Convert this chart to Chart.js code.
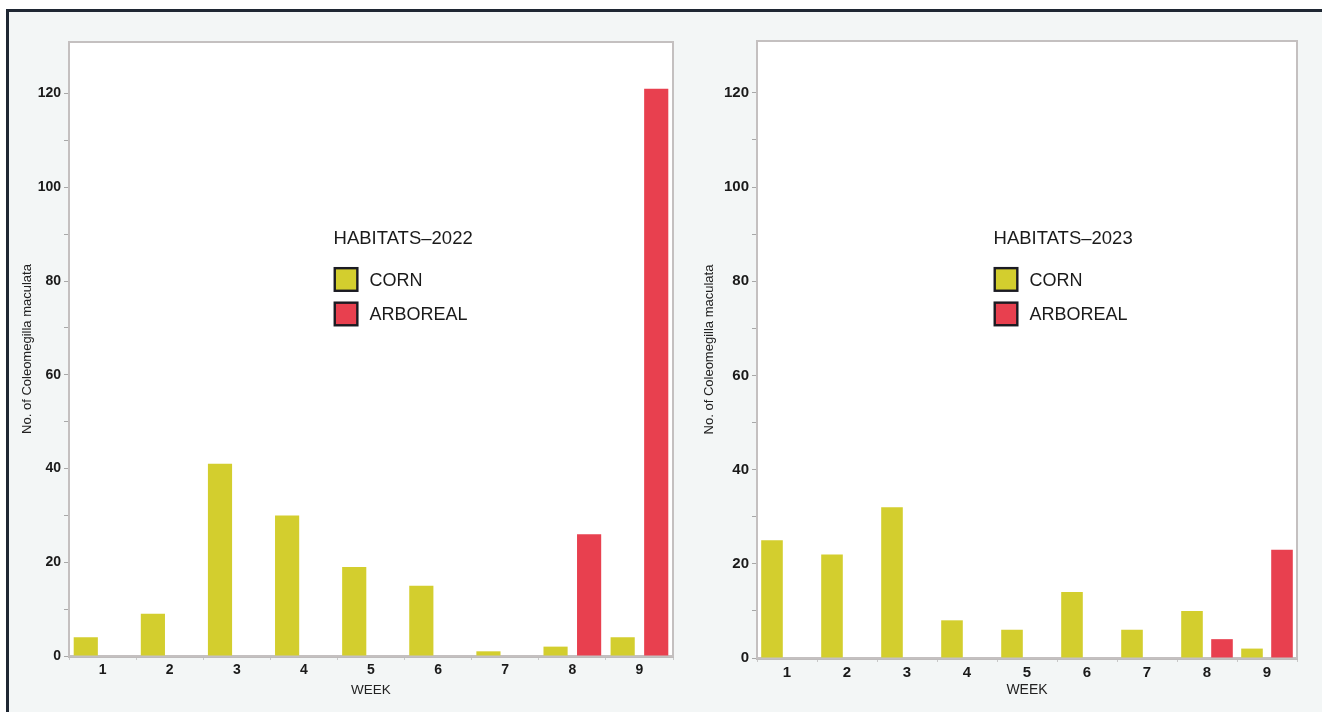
<!DOCTYPE html>
<html><head><meta charset="utf-8">
<script src="https://cdn.jsdelivr.net/npm/chart.js@4/dist/chart.umd.min.js"></script>
<style>
html,body{margin:0;padding:0;background:#fff;}
#wrap{position:relative;width:1322px;height:712px;overflow:hidden;background:#fff;}
#frame{position:absolute;left:6px;top:9px;right:0;bottom:0;background:#f3f6f6;border-top:3px solid #1f2733;border-left:3px solid #1f2733;}
canvas{position:absolute;top:0;}
#c1{left:0}
#c2{left:690px}
</style></head><body>
<div id="wrap"><div id="frame"></div>
<canvas id="c1" width="690" height="712"></canvas>
<canvas id="c2" width="632" height="712"></canvas>
</div>
<script>
// ---- data ----
const weeks = ['1','2','3','4','5','6','7','8','9'];
const seriesNames = ['CORN','ARBOREAL'];
const corn2022 = [4, 9, 41, 30, 19, 15, 1, 2, 4];
const arboreal2022 = [0, 0, 0, 0, 0, 0, 0, 26, 121];
const corn2023 = [25, 22, 32, 8, 6, 14, 6, 10, 2];
const arboreal2023 = [0, 0, 0, 0, 0, 0, 0, 4, 23];
const yTickLabels = [0, 20, 40, 60, 80, 100, 120];
const yMinorTicks = [10, 30, 50, 70, 90, 110];
const legendTitles = ['HABITATS–2022', 'HABITATS–2023'];
const xTitle = 'WEEK';
const yTitle = 'No. of Coleomegilla maculata';

const CORN_COLOR = '#d3ce2e';
const ARB_COLOR = '#e8404f';
const FONT = '"Liberation Sans", Arial, Helvetica, sans-serif';

const plotFrame = {
  id: 'plotFrame',
  beforeDraw(chart) {
    const {ctx, chartArea: a} = chart;
    ctx.save();
    ctx.fillStyle = '#ffffff';
    ctx.fillRect(a.left, a.top, a.right - a.left, a.bottom - a.top);
    ctx.restore();
  },
  beforeDatasetsDraw(chart) {
    const {ctx, chartArea: a} = chart;
    ctx.save();
    ctx.strokeStyle = '#c4c0c0';
    ctx.lineWidth = 2;
    ctx.strokeRect(a.left, a.top, a.right - a.left, a.bottom - a.top);
    ctx.restore();
  }
};

const insideLegend = {
  id: 'insideLegend',
  afterDraw(chart, args, opts) {
    const {ctx, chartArea: a} = chart;
    const x = a.left + opts.xFrac * (a.right - a.left);
    const y0 = a.top + opts.yFrac * (a.bottom - a.top);
    ctx.save();
    ctx.textAlign = 'left';
    ctx.textBaseline = 'middle';
    ctx.fillStyle = '#1a1a1a';
    ctx.font = '18.5px ' + FONT;
    ctx.fillText(opts.title, x, y0);
    chart.data.datasets.forEach((ds, i) => {
      const by = y0 + 28.5 + i * 34.5;
      ctx.fillStyle = ds.backgroundColor;
      ctx.fillRect(x + 1.2, by + 1.2, 22.6, 22.6);
      ctx.lineWidth = 2.4;
      ctx.strokeStyle = '#1b1b22';
      ctx.strokeRect(x + 1.2, by + 1.2, 22.6, 22.6);
      ctx.fillStyle = '#1a1a1a';
      ctx.font = '18px ' + FONT;
      ctx.fillText(ds.label, x + 36, by + 14);
    });
    ctx.restore();
  }
};

function makeChart(id, corn, arb, p) {
  const allTicks = yTickLabels.concat(yMinorTicks).sort((a, b) => a - b);
  return new Chart(document.getElementById(id), {
    type: 'bar',
    data: {
      labels: weeks,
      datasets: [
        {label: seriesNames[0], data: corn, backgroundColor: CORN_COLOR, borderWidth: 0},
        {label: seriesNames[1], data: arb, backgroundColor: ARB_COLOR, borderWidth: 0}
      ]
    },
    plugins: [plotFrame, insideLegend],
    options: {
      responsive: false,
      animation: false,
      devicePixelRatio: 1,
      datasets: {bar: {categoryPercentage: 1.0, barPercentage: 0.72}},
      layout: {padding: {left: 0, right: p.padRight, top: p.padTop, bottom: 8}},
      plugins: {
        legend: {display: false},
        tooltip: {enabled: false},
        insideLegend: {title: p.legendTitle, xFrac: 0.438, yFrac: 0.32}
      },
      scales: {
        x: {
          grid: {display: true, drawOnChartArea: false, drawTicks: true, tickLength: 4, color: '#c8c8c8', offset: true},
          border: {display: true, color: '#bebbbb', width: 3},
          ticks: {color: '#1a1a1a', padding: 2, font: {family: FONT, size: p.tickSize, weight: 'bold'}, maxRotation: 0},
          title: {display: true, text: xTitle, color: '#222', font: {family: FONT, size: p.xTitleSize}, padding: {top: 0, bottom: p.xTitlePad}},
          afterFit: s => { s.height = p.xHeight; }
        },
        y: {
          min: 0, max: 131,
          afterBuildTicks: s => { s.ticks = allTicks.map(v => ({value: v})); },
          grid: {display: true, drawOnChartArea: false, drawTicks: true, tickLength: 5, color: '#a8a8a8'},
          border: {display: true, color: '#c4c0c0', width: 2},
          ticks: {
            color: '#1a1a1a', padding: 3,
            font: {family: FONT, size: p.tickSize, weight: 'bold'},
            callback: v => (yTickLabels.includes(v) ? String(v) : '')
          },
          title: {display: true, text: yTitle, color: '#222', font: {family: FONT, size: 13}, padding: {top: p.yTitlePad, bottom: 0}},
          afterFit: s => { s.width = p.yWidth; }
        }
      }
    }
  });
}

makeChart('c1', corn2022, arboreal2022, {
  padRight: 17, padTop: 42, xHeight: 48, yWidth: 69, tickSize: 14,
  xTitleSize: 13.5, xTitlePad: 5.5, yTitlePad: 19.5, legendTitle: legendTitles[0]
});
makeChart('c2', corn2023, arboreal2023, {
  padRight: 25, padTop: 41, xHeight: 46, yWidth: 67, tickSize: 15,
  xTitleSize: 14, xTitlePad: 5, yTitlePad: 12, legendTitle: legendTitles[1]
});
</script>
</body></html>
